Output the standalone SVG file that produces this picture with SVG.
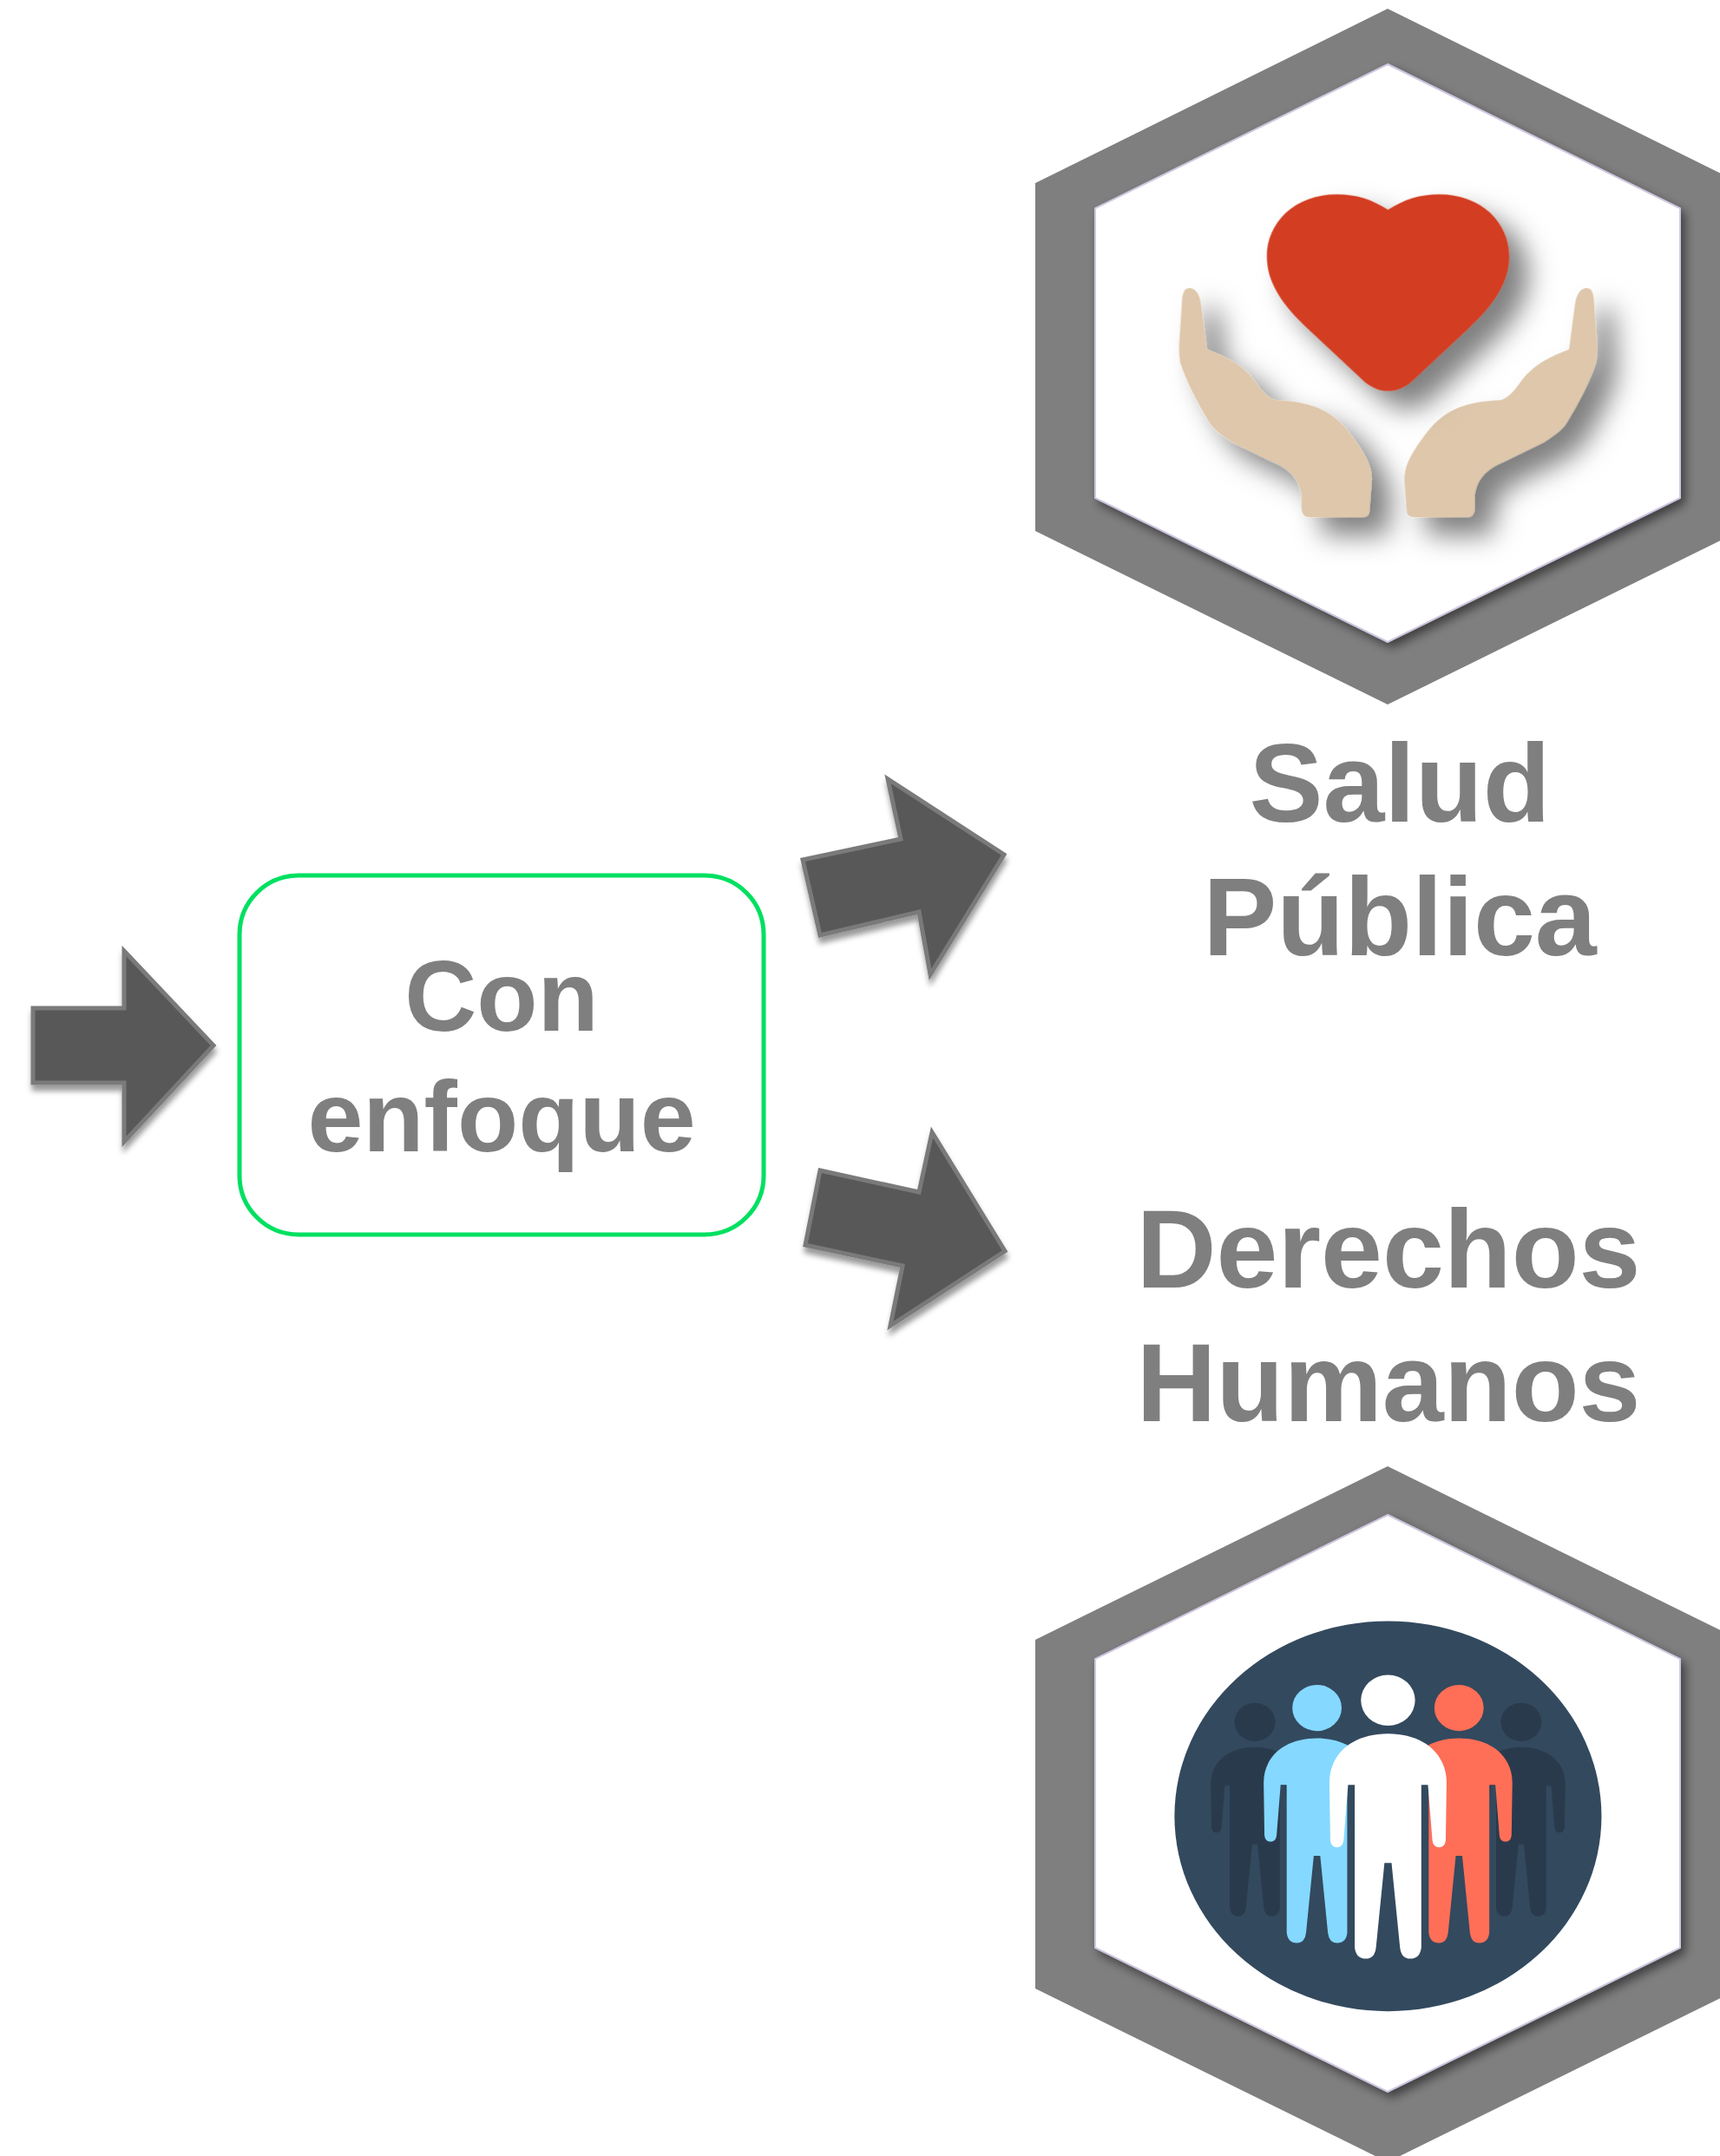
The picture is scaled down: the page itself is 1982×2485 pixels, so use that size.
<svg xmlns="http://www.w3.org/2000/svg" xmlns:xlink="http://www.w3.org/1999/xlink" width="1982" height="2485" viewBox="0 0 1982 2485">
<style>
.ring{fill:#7f7f7f}
.inner{fill:#fff;stroke:#cfc6e2;stroke-width:2;filter:url(#hexShadow)}
.label{font-family:"Liberation Sans",Arial,sans-serif;font-weight:700;fill:#7f7f7f;text-anchor:middle}
.arrow{fill:#595959;stroke:#7a7a7a;stroke-width:5;stroke-linejoin:miter;filter:url(#arrowShadow)}
.hand{fill:#dfc7ac}
</style>
<defs>
<filter id="hexShadow" x="-10%" y="-10%" width="120%" height="120%"><feDropShadow dx="5" dy="6" stdDeviation="6" flood-color="#000" flood-opacity=".5"/></filter>
<filter id="iconShadow" x="-30%" y="-30%" width="170%" height="170%"><feDropShadow dx="44" dy="40" stdDeviation="30" flood-color="#000" flood-opacity=".5"/></filter>
<filter id="arrowShadow" x="-15%" y="-15%" width="130%" height="130%"><feDropShadow dx="1" dy="7" stdDeviation="3" flood-color="#000" flood-opacity=".4"/></filter>
<path id="handShape" d="M372 635C390 635 398 655 400 680L412 770C450 785 490 800 520 840C535 860 550 880 570 882C640 885 690 900 730 950C770 1000 785 1030 783 1060L778 1125Q778 1140 760 1140L645 1140Q625 1140 625 1120L625 1090C620 1050 590 1030 560 1018L470 975C450 962 430 950 418 932C392 890 365 840 352 800Q348 780 350 750L356 660Q358 635 372 635Z"/>
<g id="person">
<ellipse cx="0" cy="545" rx="61" ry="57"/>
<path d="M0 620C-80 620-132 665-132 730L-130 860Q-128 875-115 875Q-102 875-100 860L-90 735L-75 735L-75 1100Q-72 1125-50 1125Q-30 1125-27 1100L-8 910L8 910L27 1100Q30 1125 50 1125Q72 1125 75 1100L75 735L90 735L100 860Q102 875 115 875Q128 875 130 860L132 730C132 665 80 620 0 620Z"/>
</g>
<clipPath id="leftSide"><rect x="300" y="300" width="429" height="900"/></clipPath>
<clipPath id="rightSide"><rect x="911" y="300" width="429" height="900"/></clipPath>
<clipPath id="farLeft"><rect x="300" y="300" width="290" height="900"/></clipPath>
<clipPath id="farRight"><rect x="1050" y="300" width="290" height="900"/></clipPath>
</defs>
<rect width="1982" height="2485" fill="#fff"/>
<g id="connectors">
<polygon class="arrow" points="38,1162 143,1162 143,1096 246,1205 143,1316 143,1248 38,1248"/>
<polygon class="arrow" points="925,991 1038,967 1023,898 1157,985 1072,1123 1059,1051 945,1078"/>
<polygon class="arrow" points="945,1349 1059,1374 1074,1305 1158,1442 1026,1528 1040,1459 928,1435"/>
</g>
<g id="node-con-enfoque">
<rect x="276" y="1009" width="604" height="414" rx="68" ry="68" fill="#fff" stroke="#00e061" stroke-width="5"/>
<text class="label" x="578" y="1188" font-size="115">Con</text>
<text class="label" x="578" y="1327" font-size="115">enfoque</text>
</g>
<g id="node-salud-publica">
<polygon class="ring" points="1599,10 2005,211 2005,612 1599,812 1193,612 1193,211"/>
<polygon class="inner" points="1599,74 1936,240 1936,574 1599,740 1262,574 1262,240"/>
<g transform="translate(1180 0) scale(.5115 .523)">
<g filter="url(#iconShadow)">
<use xlink:href="#handShape" href="#handShape" class="hand"/>
<use xlink:href="#handShape" href="#handShape" class="hand" transform="translate(1640 0) scale(-1 1)"/>
</g>
<g filter="url(#iconShadow)">
<path fill="#d33d20" d="M820 462C785 440 750 428 705 428C610 428 547 490 547 565C547 625 585 675 640 725L755 830C795 872 845 872 885 830L1000 725C1055 675 1093 625 1093 565C1093 490 1030 428 935 428C890 428 855 440 820 462Z"/>
</g>
</g>
<text class="label" x="1613" y="947" font-size="127.5">Salud</text>
<text class="label" x="1613" y="1101" font-size="127.5">Pública</text>
</g>
<g id="node-derechos-humanos">
<text class="label" x="1600" y="1484" font-size="127.5">Derechos</text>
<text class="label" x="1600" y="1638" font-size="127.5">Humanos</text>
<polygon class="ring" points="1599,1690 2005,1890 2005,2292 1599,2492 1193,2292 1193,1890"/>
<polygon class="inner" points="1599,1746 1936,1912 1936,2245 1599,2411 1262,2245 1262,1912"/>
<g transform="translate(1180 1680) scale(.5115 .5134)">
<ellipse cx="820" cy="805" rx="481" ry="438" fill="#33495e"/>
<g clip-path="url(#farLeft)"><use xlink:href="#person" href="#person" fill="#2a3a4d" transform="translate(520 184) scale(.752)"/></g>
<g clip-path="url(#farRight)"><use xlink:href="#person" href="#person" fill="#2a3a4d" transform="translate(1120 184) scale(.752)"/></g>
<g clip-path="url(#leftSide)"><use xlink:href="#person" href="#person" fill="#85d8ff" transform="translate(660 66) scale(.91)"/></g>
<g clip-path="url(#rightSide)"><use xlink:href="#person" href="#person" fill="#ff6f57" transform="translate(980 66) scale(.91)"/></g>
<use xlink:href="#person" href="#person" fill="#fff" transform="translate(820 0)"/>
</g>
</g>
</svg>
